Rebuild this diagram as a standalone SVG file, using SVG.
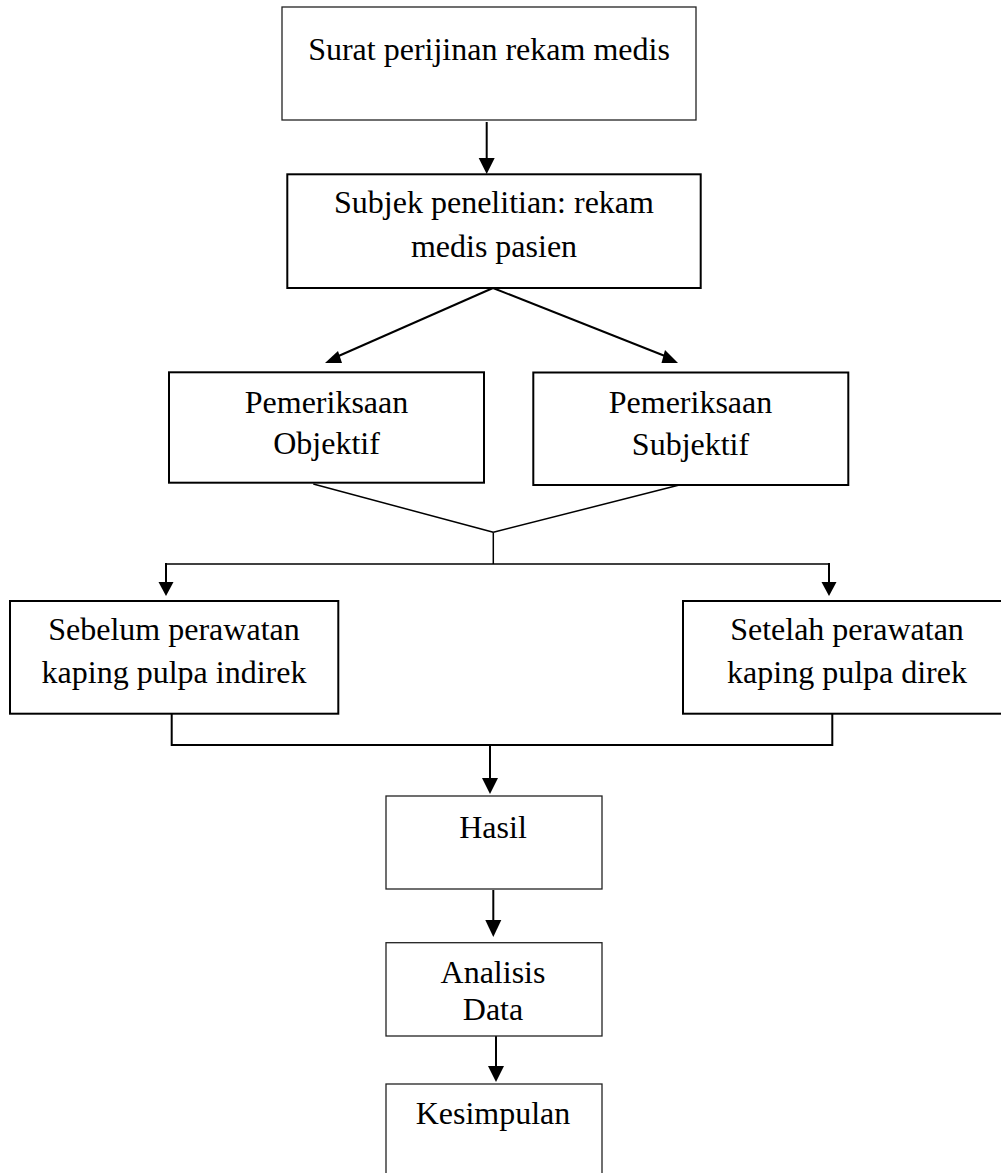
<svg xmlns="http://www.w3.org/2000/svg" width="1001" height="1173" viewBox="0 0 1001 1173">
<style>
.box{fill:#fff;stroke:#000;stroke-width:2}
.thin{fill:#fff;stroke:#222;stroke-width:1.3}
.lbl{font-family:"Liberation Serif","Times New Roman",serif;font-size:32px;fill:#000;text-anchor:middle}
.ln{fill:none;stroke:#000;stroke-width:2}
.ln1{fill:none;stroke:#000;stroke-width:1.5}
.ah{fill:#000;stroke:none}
</style>
<rect x="0" y="0" width="1001" height="1173" fill="#fff"/>
<g id="connectors">
  <line class="ln" x1="486.7" y1="122" x2="486.7" y2="160"/>
  <polygon class="ah" points="478.7,158 494.7,158 486.7,174"/>
  <line class="ln" x1="493" y1="288" x2="334" y2="358"/>
  <polygon class="ah" points="325,363 342,363 338,351"/>
  <line class="ln" x1="493" y1="288" x2="670" y2="358"/>
  <polygon class="ah" points="678,363 661.5,363 665,350"/>
  <line class="ln1" x1="313.3" y1="484" x2="493.3" y2="532.3"/>
  <line class="ln1" x1="679.3" y1="485" x2="493.3" y2="532.3"/>
  <line class="ln1" x1="493.3" y1="532.3" x2="493.3" y2="564"/>
  <line class="ln1" x1="166" y1="564" x2="829" y2="564"/>
  <line class="ln" x1="166" y1="563" x2="166" y2="583"/>
  <polygon class="ah" points="158.5,582 173.5,582 166,596"/>
  <line class="ln" x1="829" y1="563" x2="829" y2="583"/>
  <polygon class="ah" points="821.5,582 836.5,582 829,596"/>
  <polyline class="ln" points="171.7,714 171.7,745 832.3,745 832.3,714"/>
  <line class="ln" x1="490" y1="745" x2="490" y2="780"/>
  <polygon class="ah" points="482,778 498,778 490,794"/>
  <line class="ln" x1="493.3" y1="890" x2="493.3" y2="922"/>
  <polygon class="ah" points="485.3,920 501.3,920 493.3,937"/>
  <line class="ln" x1="496" y1="1036" x2="496" y2="1068"/>
  <polygon class="ah" points="488,1066 504,1066 496,1082"/>
</g>
<g id="n1">
  <rect class="thin" x="282" y="7" width="414" height="113"/>
  <text class="lbl" x="489" y="60">Surat perijinan rekam medis</text>
</g>
<g id="n2">
  <rect class="box" x="287.3" y="174.3" width="413.4" height="113.7"/>
  <text class="lbl" x="494" y="213.3">Subjek penelitian: rekam</text>
  <text class="lbl" x="494" y="256.7">medis pasien</text>
</g>
<g id="n3">
  <rect class="box" x="169" y="372.3" width="315" height="110.4"/>
  <text class="lbl" x="326.5" y="413.3">Pemeriksaan</text>
  <text class="lbl" x="326.5" y="454">Objektif</text>
</g>
<g id="n4">
  <rect class="box" x="533.3" y="372.5" width="315" height="112.5"/>
  <text class="lbl" x="690.5" y="413.3">Pemeriksaan</text>
  <text class="lbl" x="690.5" y="455">Subjektif</text>
</g>
<g id="n5">
  <rect class="box" x="10" y="601" width="328.3" height="112.7"/>
  <text class="lbl" x="174" y="640">Sebelum perawatan</text>
  <text class="lbl" x="174" y="683.3">kaping pulpa indirek</text>
</g>
<g id="n6">
  <rect class="box" x="683" y="601" width="330" height="112.7"/>
  <text class="lbl" x="847" y="640">Setelah perawatan</text>
  <text class="lbl" x="847" y="683.3">kaping pulpa direk</text>
</g>
<g id="n7">
  <rect class="thin" x="386" y="796" width="216" height="93"/>
  <text class="lbl" x="493" y="838.3">Hasil</text>
</g>
<g id="n8">
  <rect class="thin" x="386" y="942.7" width="216" height="93.3"/>
  <text class="lbl" x="493" y="982.7">Analisis</text>
  <text class="lbl" x="493" y="1020">Data</text>
</g>
<g id="n9">
  <rect class="thin" x="386" y="1084" width="216" height="120"/>
  <text class="lbl" x="493" y="1124">Kesimpulan</text>
</g>
</svg>
